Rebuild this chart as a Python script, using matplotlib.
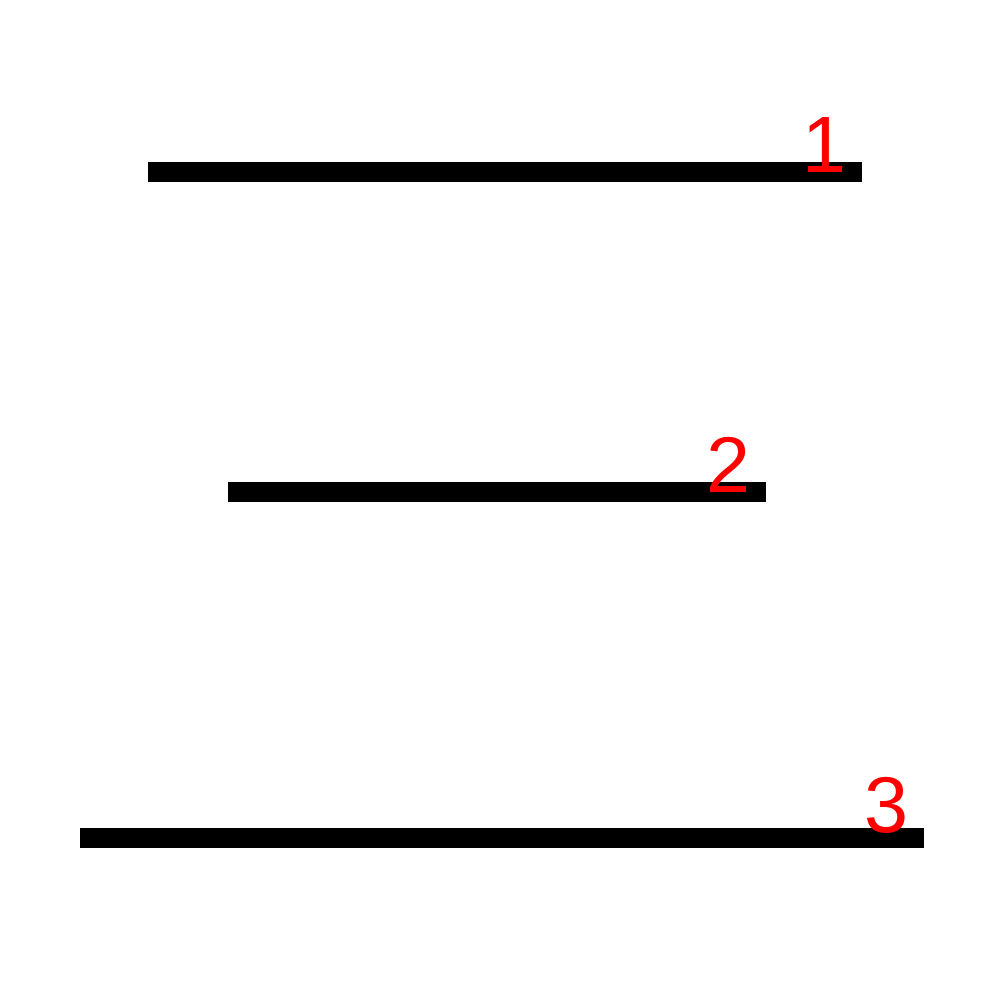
import matplotlib.pyplot as plt

# pixel-space data (y grows downward)
x_start = [148, 228, 80]
x_end = [862, 766, 924]
y_pos = [172, 492, 838]
labels = ['1', '2', '3']
label_y = [172, 492, 832]

fig = plt.figure(figsize=(10, 10), dpi=100)
ax = fig.add_axes([0, 0, 1, 1])
ax.set_xlim(0, 1000)
ax.set_ylim(1000, 0)
ax.axis('off')

for x0, x1, y, lab, ly in zip(x_start, x_end, y_pos, labels, label_y):
    ax.plot([x0, x1], [y, y], color='black', linewidth=14.4, solid_capstyle='butt')
    ax.text(x1 - 16, ly, lab, color='red', fontsize=57, family='Liberation Sans',
            ha='right', va='baseline')

fig.savefig('out.png', dpi=100, facecolor='white')
